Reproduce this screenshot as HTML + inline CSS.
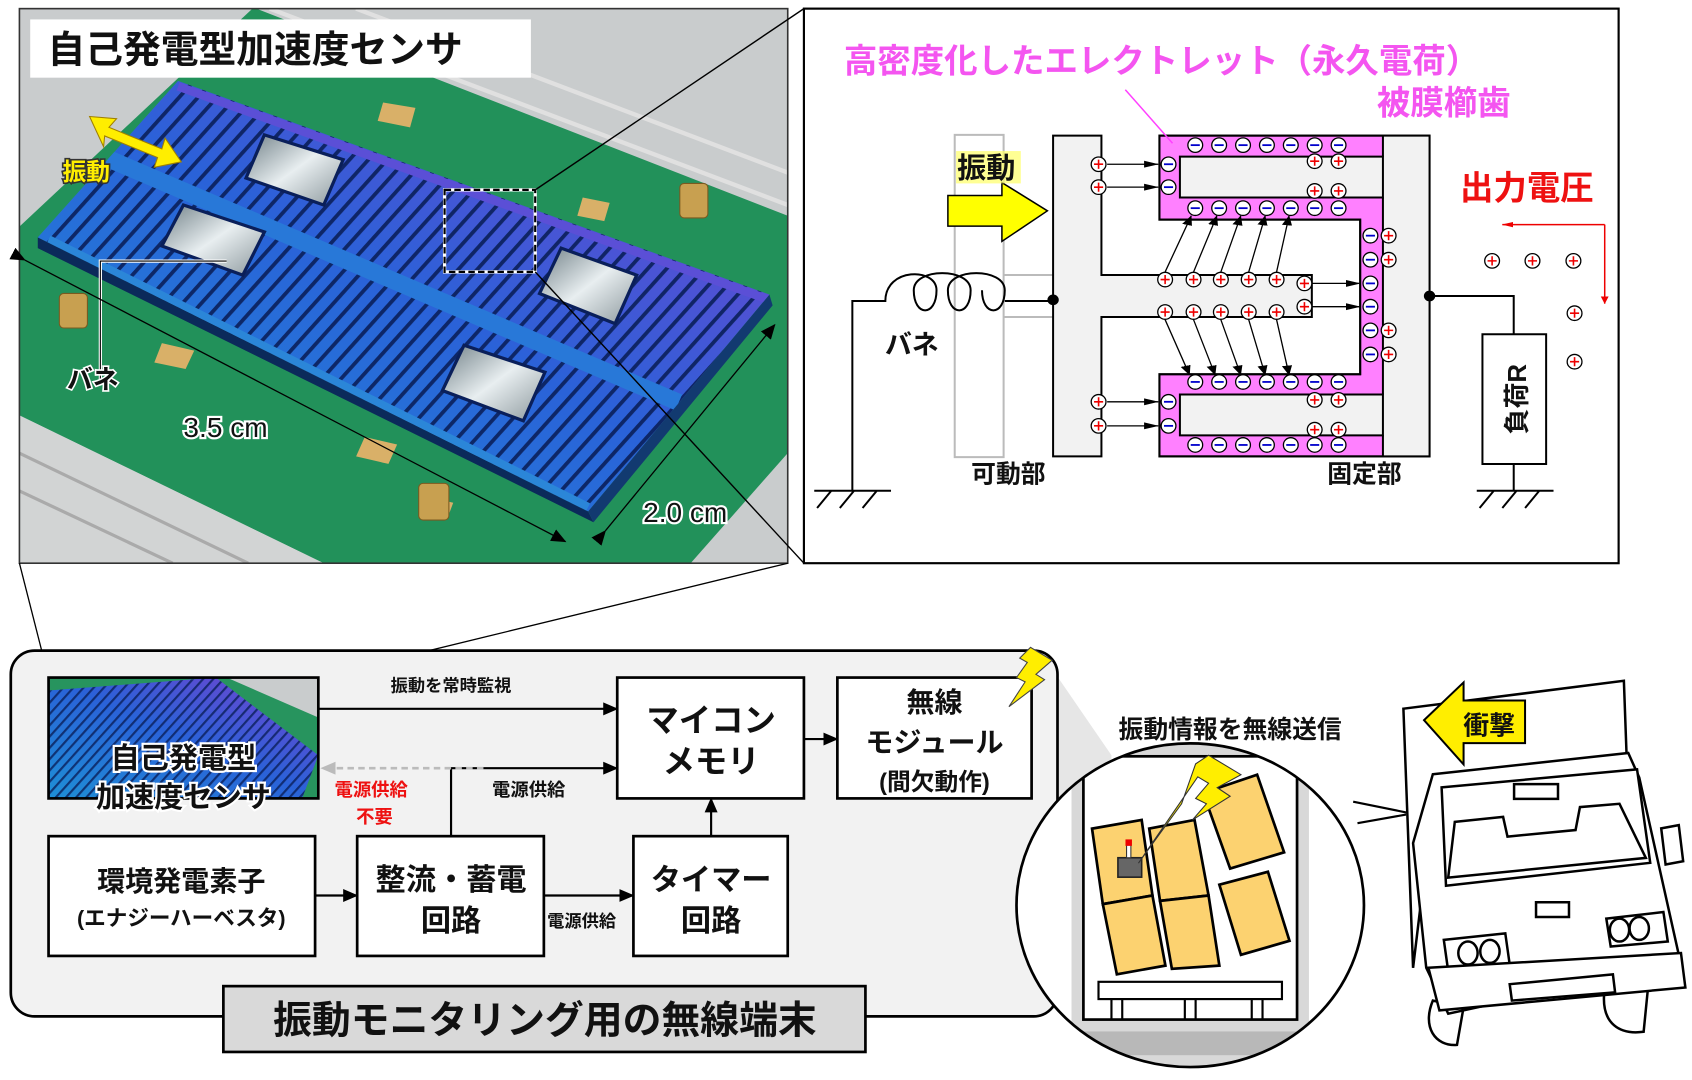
<!DOCTYPE html>
<html><head><meta charset="utf-8"><style>
html,body{margin:0;padding:0;background:#fff}
svg{display:block}
text{font-family:"Liberation Sans","Noto Sans CJK JP",sans-serif;font-weight:bold}
</style></head><body>
<svg width="1692" height="1080" viewBox="0 0 1568 1001" preserveAspectRatio="none" xmlns="http://www.w3.org/2000/svg">
<defs>
<linearGradient id="chipg" x1="0" y1="1" x2="1" y2="0">
<stop offset="0" stop-color="#1e8fd6"/><stop offset="0.5" stop-color="#2a62d8"/><stop offset="1" stop-color="#7b3fd0"/></linearGradient>
<linearGradient id="winG" x1="0" y1="0" x2="1" y2="1"><stop offset="0" stop-color="#6f7f86"/><stop offset="0.5" stop-color="#e8eef0"/><stop offset="1" stop-color="#8a969b"/></linearGradient>
<pattern id="slots" width="13" height="13" patternUnits="userSpaceOnUse" patternTransform="rotate(42)">
<rect x="0" y="0" width="3.5" height="13" fill="#0a1f5a"/></pattern>
<pattern id="slots2" width="7" height="7" patternUnits="userSpaceOnUse" patternTransform="rotate(42)">
<rect x="0" y="0" width="2" height="7" fill="#0a1f5a"/></pattern>
<clipPath id="chipc"><polygon points="165,75 713,273 545,474 35,220"/></clipPath>
<clipPath id="photoc"><rect x="18" y="8" width="712" height="514"/></clipPath>
<marker id="ahb" markerWidth="14" markerHeight="14" refX="13" refY="7" orient="auto" markerUnits="userSpaceOnUse"><path d="M0,1L14,7L0,13z" fill="#000"/></marker>
<marker id="ahg" markerWidth="14" markerHeight="14" refX="13" refY="7" orient="auto" markerUnits="userSpaceOnUse"><path d="M0,1L14,7L0,13z" fill="#bbb"/></marker>
<marker id="ahr" markerWidth="20" markerHeight="20" refX="19" refY="10" orient="auto" markerUnits="userSpaceOnUse"><path d="M0,3L20,10L0,17z" fill="#e00"/></marker>
<marker id="ahz" markerWidth="26" markerHeight="26" refX="25" refY="13" orient="auto" markerUnits="userSpaceOnUse"><path d="M0,4L26,13L0,22z" fill="#000"/></marker>
<g id="pl"><ellipse rx="13" ry="19" fill="#fff" stroke="#000" stroke-width="1.3" vector-effect="non-scaling-stroke"/><path d="M-8,0H8M0,-12V12" stroke="#e00" stroke-width="1.6" vector-effect="non-scaling-stroke"/></g>
<g id="mi"><ellipse rx="13" ry="19" fill="#fff" stroke="#000" stroke-width="1.3" vector-effect="non-scaling-stroke"/><path d="M-8,0H8" stroke="#00c" stroke-width="1.8" vector-effect="non-scaling-stroke"/></g>
</defs>

<!-- ===== PHOTO PANEL ===== -->
<g clip-path="url(#photoc)">
<rect x="18" y="8" width="712" height="514" fill="#c9cccd"/>
<polygon points="18,210 235,7 730,200 730,420 640,522 300,522 18,385" fill="#22915a"/>
<polygon points="18,385 300,522 18,522" fill="#d2d4d4"/>
<path d="M18,420 L230,522 M18,455 L160,522" stroke="#aaa" stroke-width="3"/>
<path d="M250,8 L730,190 M330,8 L730,160" stroke="#e0e0e0" stroke-width="4"/>
<g fill="#d9b068">
<polygon points="355,95 385,100 380,118 350,112"/><polygon points="540,183 565,188 560,205 535,200"/>
<polygon points="150,318 180,325 172,342 143,336"/><polygon points="338,405 368,412 360,430 330,423"/>
<polygon points="395,460 420,466 414,482 390,476"/>
</g>
<g fill="#c8a050" stroke="#7a5a20" stroke-width="1">
<rect x="630" y="170" width="26" height="32" rx="4"/><rect x="55" y="272" width="26" height="32" rx="4"/><rect x="388" y="448" width="28" height="34" rx="4"/>
</g>
<polygon points="35,220 545,474 550,484 35,230" fill="#0b2a5a"/>
<polygon points="545,474 713,273 716,283 550,484" fill="#123a70"/>
<polygon points="165,75 713,273 545,474 35,220" fill="url(#chipg)"/>
<g clip-path="url(#chipc)">
<rect x="18" y="8" width="712" height="514" fill="url(#slots)" opacity="0.9"/>
<line x1="100" y1="147" x2="629" y2="373" stroke="#2878d8" stroke-width="16"/>
<line x1="45" y1="222" x2="545" y2="470" stroke="#2b86d8" stroke-width="8"/>
<line x1="165" y1="80" x2="713" y2="278" stroke="#5b4fd6" stroke-width="8"/>
<polygon points="245,125 318,148 300,190 228,165" fill="url(#winG)" stroke="#0a1f5a" stroke-width="3"/>
<polygon points="170,190 245,215 225,255 150,228" fill="url(#winG)" stroke="#0a1f5a" stroke-width="3"/>
<polygon points="520,230 590,255 570,300 500,272" fill="url(#winG)" stroke="#0a1f5a" stroke-width="3"/>
<polygon points="430,320 505,345 485,390 410,362" fill="url(#winG)" stroke="#0a1f5a" stroke-width="3"/>
</g>
</g>
<rect x="18" y="8" width="712" height="514" fill="none" stroke="#333" stroke-width="1.5"/>
<rect x="28" y="18" width="464" height="54" fill="#fff"/>
<text x="44" y="58" font-size="35" fill="#111">自己発電型加速度センサ</text>
<rect x="412" y="176" width="84" height="76" fill="none" stroke="#fff" stroke-width="3"/>
<rect x="412" y="176" width="84" height="76" fill="none" stroke="#000" stroke-width="2" stroke-dasharray="6,3"/>
<polygon points="83,108 108,110 101,118 150,138 153,128 168,150 143,155 146,146 97,126 96,136" fill="#ffee00" stroke="#a08000" stroke-width="1"/>
<text x="58" y="167" font-size="22" fill="#ffee00" stroke="#333" stroke-width="3" paint-order="stroke">振動</text>
<polyline points="93,357 93,242 210,242" fill="none" stroke="#fff" stroke-width="3"/>
<polyline points="93,357 93,242 210,242" fill="none" stroke="#000" stroke-width="1"/>
<text x="62" y="360" font-size="24" fill="#111" stroke="#fff" stroke-width="3" paint-order="stroke">バネ</text>
<line x1="23" y1="241" x2="524" y2="502" stroke="#000" stroke-width="1.2" marker-start="url(#ahb)" marker-end="url(#ahb)"/>
<line x1="561" y1="492" x2="718" y2="301" stroke="#000" stroke-width="1.2" marker-start="url(#ahb)" marker-end="url(#ahb)"/>
<text x="170" y="405" font-size="26" fill="#111" stroke="#fff" stroke-width="4" paint-order="stroke" style="font-weight:normal">3.5 cm</text>
<text x="596" y="484" font-size="26" fill="#111" stroke="#fff" stroke-width="4" paint-order="stroke" style="font-weight:normal">2.0 cm</text>

<line x1="496" y1="176" x2="745" y2="8" stroke="#000" stroke-width="1.3"/>
<line x1="496" y1="252" x2="745" y2="522" stroke="#000" stroke-width="1.3"/>

<!-- ===== RIGHT PANEL ===== -->
<rect x="745" y="8" width="755" height="514" fill="#fff" stroke="#000" stroke-width="2"/>
<g transform="matrix(0.527,0,0,0.354,741.4,0)" stroke="#000" stroke-width="2">
<rect x="272" y="353" width="86" height="844" fill="none" stroke="#bbb" stroke-width="2" vector-effect="non-scaling-stroke"/>
<line x1="358" y1="720" x2="445" y2="720" stroke="#bbb" stroke-width="2" vector-effect="non-scaling-stroke"/>
<line x1="358" y1="830" x2="445" y2="830" stroke="#bbb" stroke-width="2" vector-effect="non-scaling-stroke"/>
<path d="M445,355H530V720H900V830H530V1195H445Z" fill="#f2f2f2" stroke="#000" stroke-width="2" vector-effect="non-scaling-stroke"/>
<path d="M632,355H1107V1195H632V980H985V575H632Z" fill="#ff80ff" stroke="#000" stroke-width="2" vector-effect="non-scaling-stroke"/>
<rect x="1025" y="355" width="82" height="840" fill="#f2f2f2" stroke="none"/>
<rect x="668" y="410" width="357" height="107" fill="#f2f2f2" stroke="#000" stroke-width="2" vector-effect="non-scaling-stroke"/>
<rect x="668" y="1033" width="357" height="107" fill="#f2f2f2" stroke="#000" stroke-width="2" vector-effect="non-scaling-stroke"/>
<path d="M1025,355V410M1025,1140V1195M1025,517V1033" stroke="#000" stroke-width="2" vector-effect="non-scaling-stroke"/>
<path d="M632,355H1107V1195H632V980H985V575H632Z" fill="none" stroke="#000" stroke-width="2" vector-effect="non-scaling-stroke"/>
<path d="M92,1285V788H150C150,700 240,700 240,760C240,830 200,830 200,760C200,700 300,700 300,760C300,830 260,830 260,760C260,700 360,700 360,760C360,830 320,830 320,760M360,788H445" fill="none" stroke="#000" stroke-width="2" vector-effect="non-scaling-stroke"/>
<path d="M25,1285H160M55,1285L30,1330M95,1285L70,1330M135,1285L110,1330" stroke="#000" stroke-width="2" vector-effect="non-scaling-stroke"/>
<ellipse cx="445" cy="785" rx="9" ry="13" fill="#000"/>
<path d="M1107,775H1255V875M1255,1215V1285M1190,1285H1325M1220,1285L1195,1330M1260,1285L1235,1330M1300,1285L1275,1330" fill="none" stroke="#000" stroke-width="2" vector-effect="non-scaling-stroke"/>
<rect x="1200" y="875" width="112" height="340" fill="#fff" stroke="#000" stroke-width="2" vector-effect="non-scaling-stroke"/>
<ellipse cx="1107" cy="775" rx="9" ry="13" fill="#000"/>
<line x1="572" y1="235" x2="655" y2="375" stroke="#ff40ff" stroke-width="1.5" vector-effect="non-scaling-stroke"/>
<polygon points="260,512 355,512 355,478 435,552 355,632 355,592 260,592" fill="#ffff00" stroke="#000" stroke-width="1.5" vector-effect="non-scaling-stroke"/>
<path d="M1415,588H1235" stroke="#e00" stroke-width="1.5" vector-effect="non-scaling-stroke" marker-end="url(#ahr)"/>
<path d="M1415,588V795" stroke="#e00" stroke-width="1.5" vector-effect="non-scaling-stroke" marker-end="url(#ahr)"/>
<g stroke="#000" stroke-width="1.3" marker-end="url(#ahz)">
<line x1="540" y1="430" x2="630" y2="430" vector-effect="non-scaling-stroke"/>
<line x1="540" y1="490" x2="630" y2="490" vector-effect="non-scaling-stroke"/>
<line x1="540" y1="1052" x2="630" y2="1052" vector-effect="non-scaling-stroke"/>
<line x1="540" y1="1115" x2="630" y2="1115" vector-effect="non-scaling-stroke"/>
<line x1="900" y1="742" x2="985" y2="742" vector-effect="non-scaling-stroke"/>
<line x1="900" y1="803" x2="985" y2="803" vector-effect="non-scaling-stroke"/>
<line x1="642" y1="712" x2="688" y2="565" vector-effect="non-scaling-stroke"/>
<line x1="692" y1="712" x2="733" y2="565" vector-effect="non-scaling-stroke"/>
<line x1="740" y1="712" x2="775" y2="565" vector-effect="non-scaling-stroke"/>
<line x1="789" y1="712" x2="818" y2="565" vector-effect="non-scaling-stroke"/>
<line x1="838" y1="712" x2="860" y2="565" vector-effect="non-scaling-stroke"/>
<line x1="642" y1="837" x2="685" y2="982" vector-effect="non-scaling-stroke"/>
<line x1="692" y1="837" x2="730" y2="982" vector-effect="non-scaling-stroke"/>
<line x1="740" y1="837" x2="775" y2="982" vector-effect="non-scaling-stroke"/>
<line x1="789" y1="837" x2="818" y2="982" vector-effect="non-scaling-stroke"/>
<line x1="838" y1="837" x2="860" y2="982" vector-effect="non-scaling-stroke"/>
</g>
<g>
<use href="#mi" x="695" y="380"/><use href="#mi" x="737" y="380"/><use href="#mi" x="779" y="380"/><use href="#mi" x="821" y="380"/><use href="#mi" x="863" y="380"/><use href="#mi" x="905" y="380"/><use href="#mi" x="947" y="380"/>
<use href="#pl" x="905" y="422"/><use href="#pl" x="947" y="422"/><use href="#pl" x="905" y="500"/><use href="#pl" x="947" y="500"/>
<use href="#mi" x="648" y="430"/><use href="#mi" x="648" y="490"/><use href="#pl" x="525" y="430"/><use href="#pl" x="525" y="490"/>
<use href="#mi" x="695" y="545"/><use href="#mi" x="737" y="545"/><use href="#mi" x="779" y="545"/><use href="#mi" x="821" y="545"/><use href="#mi" x="863" y="545"/><use href="#mi" x="905" y="545"/><use href="#mi" x="947" y="545"/>
<use href="#pl" x="642" y="732"/><use href="#pl" x="692" y="732"/><use href="#pl" x="740" y="732"/><use href="#pl" x="789" y="732"/><use href="#pl" x="838" y="732"/>
<use href="#pl" x="887" y="742"/><use href="#pl" x="887" y="803"/>
<use href="#pl" x="642" y="817"/><use href="#pl" x="692" y="817"/><use href="#pl" x="740" y="817"/><use href="#pl" x="789" y="817"/><use href="#pl" x="838" y="817"/>
<use href="#mi" x="1003" y="617"/><use href="#mi" x="1003" y="680"/><use href="#mi" x="1003" y="742"/><use href="#mi" x="1003" y="803"/><use href="#mi" x="1003" y="865"/><use href="#mi" x="1003" y="928"/>
<use href="#pl" x="1035" y="617"/><use href="#pl" x="1035" y="680"/><use href="#pl" x="1035" y="865"/><use href="#pl" x="1035" y="928"/>
<use href="#mi" x="695" y="1000"/><use href="#mi" x="737" y="1000"/><use href="#mi" x="779" y="1000"/><use href="#mi" x="821" y="1000"/><use href="#mi" x="863" y="1000"/><use href="#mi" x="905" y="1000"/><use href="#mi" x="947" y="1000"/>
<use href="#pl" x="905" y="1047"/><use href="#pl" x="947" y="1047"/><use href="#pl" x="905" y="1125"/><use href="#pl" x="947" y="1125"/>
<use href="#mi" x="648" y="1052"/><use href="#mi" x="648" y="1115"/><use href="#pl" x="525" y="1052"/><use href="#pl" x="525" y="1115"/>
<use href="#mi" x="695" y="1165"/><use href="#mi" x="737" y="1165"/><use href="#mi" x="779" y="1165"/><use href="#mi" x="821" y="1165"/><use href="#mi" x="863" y="1165"/><use href="#mi" x="905" y="1165"/><use href="#mi" x="947" y="1165"/>
<use href="#pl" x="1217" y="683"/><use href="#pl" x="1288" y="683"/><use href="#pl" x="1360" y="683"/><use href="#pl" x="1362" y="820"/><use href="#pl" x="1362" y="947"/>
</g>
</g>
<text x="782" y="67" font-size="31" fill="#f455f0">高密度化したエレクトレット（永久電荷）</text>
<text x="1276" y="106" font-size="31" fill="#f455f0">被膜櫛歯</text>
<text x="1353" y="185" font-size="31" fill="#ee1111">出力電圧</text>
<rect x="886" y="140" width="60" height="30" fill="#ffff66" opacity="0.7"/>
<text x="887" y="165" font-size="27" fill="#111">振動</text>
<text x="820" y="328" font-size="25" fill="#111">バネ</text>
<text x="900" y="447" font-size="23" fill="#111">可動部</text>
<text x="1230" y="447" font-size="23" fill="#111">固定部</text>
<text transform="translate(1414,370) rotate(-90)" text-anchor="middle" font-size="24" fill="#111">負荷R</text>

<!-- ===== BOTTOM PANEL ===== -->
<line x1="18" y1="522" x2="45" y2="628" stroke="#000" stroke-width="1.2"/>
<line x1="730" y1="522" x2="295" y2="628" stroke="#000" stroke-width="1.2"/>
<polygon points="975,620 1030,700 1020,930 975,935" fill="#e6e6e6"/>
<rect x="10" y="603" width="970" height="339" rx="22" fill="#f2f2f2" stroke="#000" stroke-width="2.5"/>
<rect x="45" y="628" width="250" height="112" fill="#27945e"/>
<polygon points="45,640 200,628 295,700 280,740 45,740" fill="url(#chipg)"/>
<polygon points="45,640 200,628 295,700 280,740 45,740" fill="url(#slots2)" opacity="0.8"/>
<polygon points="210,628 295,628 295,665" fill="#c9cccd"/>
<rect x="45" y="628" width="250" height="112" fill="none" stroke="#000" stroke-width="2.5"/>
<text x="170" y="712" text-anchor="middle" font-size="27" fill="#111" stroke="#fff" stroke-width="4" paint-order="stroke">自己発電型</text>
<text x="170" y="748" text-anchor="middle" font-size="27" fill="#111" stroke="#fff" stroke-width="4" paint-order="stroke">加速度センサ</text>
<g fill="#fff" stroke="#000" stroke-width="2.5">
<rect x="572" y="628" width="173" height="112"/><rect x="776" y="628" width="180" height="112"/>
<rect x="45" y="775" width="247" height="111"/><rect x="331" y="775" width="173" height="111"/><rect x="587" y="775" width="143" height="111"/>
</g>
<g stroke="#000" stroke-width="2" fill="none" marker-end="url(#ahb)">
<line x1="295" y1="657" x2="572" y2="657"/>
<polyline points="418,775 418,712 572,712"/>
<line x1="292" y1="830" x2="331" y2="830"/>
<line x1="504" y1="830" x2="587" y2="830"/>
<line x1="659" y1="775" x2="659" y2="740"/>
<line x1="745" y1="685" x2="776" y2="685"/>
</g>
<line x1="448" y1="712" x2="298" y2="712" stroke="#bbb" stroke-width="2.5" stroke-dasharray="6,4" marker-end="url(#ahg)"/>
<text x="362" y="641" font-size="16" fill="#111">振動を常時監視</text>
<text x="310" y="738" font-size="17" fill="#ee1111">電源供給</text>
<text x="330" y="763" font-size="17" fill="#ee1111">不要</text>
<text x="456" y="738" font-size="17" fill="#111">電源供給</text>
<text x="507" y="859" font-size="16" fill="#111">電源供給</text>
<g fill="#111" text-anchor="middle">
<text x="659" y="678" font-size="30">マイコン</text><text x="659" y="716" font-size="30">メモリ</text>
<text x="866" y="660" font-size="26">無線</text><text x="866" y="697" font-size="26">モジュール</text><text x="866" y="732" font-size="22">(間欠動作)</text>
<text x="168" y="826" font-size="26">環境発電素子</text><text x="168" y="858" font-size="20">(エナジーハーベスタ)</text>
<text x="418" y="825" font-size="28">整流・蓄電</text><text x="418" y="863" font-size="28">回路</text>
<text x="659" y="825" font-size="28">タイマー</text><text x="659" y="863" font-size="28">回路</text>
</g>
<polygon points="955,600 975,612 960,625 968,630 935,655 950,632 942,628 952,614 945,610" fill="#ffee00" stroke="#444" stroke-width="1"/>
<rect x="207" y="914" width="595" height="61" fill="#d9d9d9" stroke="#000" stroke-width="2.5"/>
<text x="505" y="958" text-anchor="middle" font-size="36" fill="#111">振動モニタリング用の無線端末</text>

<!-- ===== CIRCLE ===== -->
<clipPath id="circc"><ellipse cx="1103" cy="839" rx="161" ry="150"/></clipPath>
<ellipse cx="1103" cy="839" rx="161" ry="150" fill="#fff"/>
<g clip-path="url(#circc)">
<rect x="993" y="690" width="220" height="300" fill="#d8d8d8"/>
<rect x="1004" y="701" width="198" height="244" fill="#fff" stroke="#000" stroke-width="2.5"/>
<rect x="993" y="956" width="220" height="22" fill="#b8b8b8"/>
<g fill="#fcd270" stroke="#000" stroke-width="2.5">
<polygon points="1012,768 1058,760 1068,830 1022,838"/>
<polygon points="1065,768 1107,760 1120,830 1075,835"/>
<polygon points="1115,735 1165,718 1190,790 1140,805"/>
<polygon points="1022,838 1068,830 1080,895 1035,903"/>
<polygon points="1075,835 1120,830 1130,895 1086,898"/>
<polygon points="1130,820 1175,808 1195,872 1150,885"/>
</g>
<rect x="1036" y="795" width="22" height="18" fill="#666" stroke="#222" stroke-width="1.5"/>
<rect x="1044" y="783" width="4" height="12" fill="#fff" stroke="#333"/>
<rect x="1043" y="778" width="6" height="6" fill="#e00"/>
<polygon points="1120,700 1150,718 1128,730 1140,738 1105,760 1118,745 1108,740 1120,726 1110,720 1055,800 1095,745 1108,708" fill="#ffee00" stroke="#333" stroke-width="1"/>
<rect x="1018" y="910" width="170" height="16" fill="#fff" stroke="#000" stroke-width="2"/>
<g fill="none" stroke="#000" stroke-width="2"><path d="M1030,926V945M1040,926V945M1098,926V945M1108,926V945M1160,926V945M1170,926V945"/></g>
</g>
<ellipse cx="1103" cy="839" rx="161" ry="150" fill="none" stroke="#000" stroke-width="2.5"/>
<text x="1140" y="684" text-anchor="middle" font-size="23" fill="#111">振動情報を無線送信</text>
<polygon points="1258,743 1303,752 1303,755 1262,763" fill="#fff"/>
<path d="M1254,743 L1303,753 M1258,763 L1303,755" stroke="#000" stroke-width="2" fill="none"/>

<!-- ===== TRUCK ===== -->
<g transform="matrix(0.407,0,0,0.304,931,593)">
<polygon points="908,210 1410,125 1418,420 975,500 930,1000" fill="#fff" stroke="#000" stroke-width="2.5" vector-effect="non-scaling-stroke"/>
<path d="M975,1100 C950,1180 980,1240 1030,1235 L1045,1120 Z M1365,1080 C1360,1170 1400,1205 1455,1195 L1465,1060 Z" fill="#fff" stroke="#000" stroke-width="2.5" vector-effect="non-scaling-stroke"/>
<polygon points="975,410 1420,345 1445,420 1535,960 1490,1000 1010,1140 960,1000 930,620" fill="#fff" stroke="#000" stroke-width="2.5" vector-effect="non-scaling-stroke"/>
<polygon points="995,450 1440,395 1470,680 1005,750" fill="#fff" stroke="#000" stroke-width="2.5" vector-effect="non-scaling-stroke"/>
<polygon points="1025,555 1135,540 1145,600 1300,580 1310,510 1400,500 1460,665 1010,725" fill="#fff" stroke="#000" stroke-width="2.5" vector-effect="non-scaling-stroke"/>
<rect x="1160" y="440" width="100" height="45" fill="#fff" stroke="#000" stroke-width="2.5" vector-effect="non-scaling-stroke"/>
<rect x="1210" y="800" width="75" height="45" fill="#fff" stroke="#000" stroke-width="2.5" vector-effect="non-scaling-stroke"/>
<polygon points="1495,575 1535,565 1545,675 1505,685" fill="#fff" stroke="#000" stroke-width="2.5" vector-effect="non-scaling-stroke"/>
<polygon points="1000,915 1140,895 1150,990 1010,1010" fill="#fff" stroke="#000" stroke-width="2.5" vector-effect="non-scaling-stroke"/>
<polygon points="1370,850 1500,830 1510,920 1380,935" fill="#fff" stroke="#000" stroke-width="2.5" vector-effect="non-scaling-stroke"/>
<ellipse cx="1055" cy="955" rx="22" ry="35" fill="#fff" stroke="#000" stroke-width="2.5" vector-effect="non-scaling-stroke"/>
<ellipse cx="1105" cy="950" rx="22" ry="35" fill="#fff" stroke="#000" stroke-width="2.5" vector-effect="non-scaling-stroke"/>
<ellipse cx="1400" cy="885" rx="22" ry="35" fill="#fff" stroke="#000" stroke-width="2.5" vector-effect="non-scaling-stroke"/>
<ellipse cx="1445" cy="880" rx="22" ry="35" fill="#fff" stroke="#000" stroke-width="2.5" vector-effect="non-scaling-stroke"/>
<polygon points="965,1000 1540,955 1550,1060 990,1130" fill="#fff" stroke="#000" stroke-width="2.5" vector-effect="non-scaling-stroke"/>
<polygon points="1150,1050 1385,1020 1390,1075 1155,1100" fill="#fff" stroke="#000" stroke-width="2.5" vector-effect="non-scaling-stroke"/>
<polygon points="955,245 1045,130 1045,185 1185,185 1185,315 1045,315 1045,380" fill="#ffee00" stroke="#000" stroke-width="2" vector-effect="non-scaling-stroke"/>
</g>
<text x="1380" y="681" text-anchor="middle" font-size="24" fill="#111">衝撃</text>
</svg>
</body></html>
